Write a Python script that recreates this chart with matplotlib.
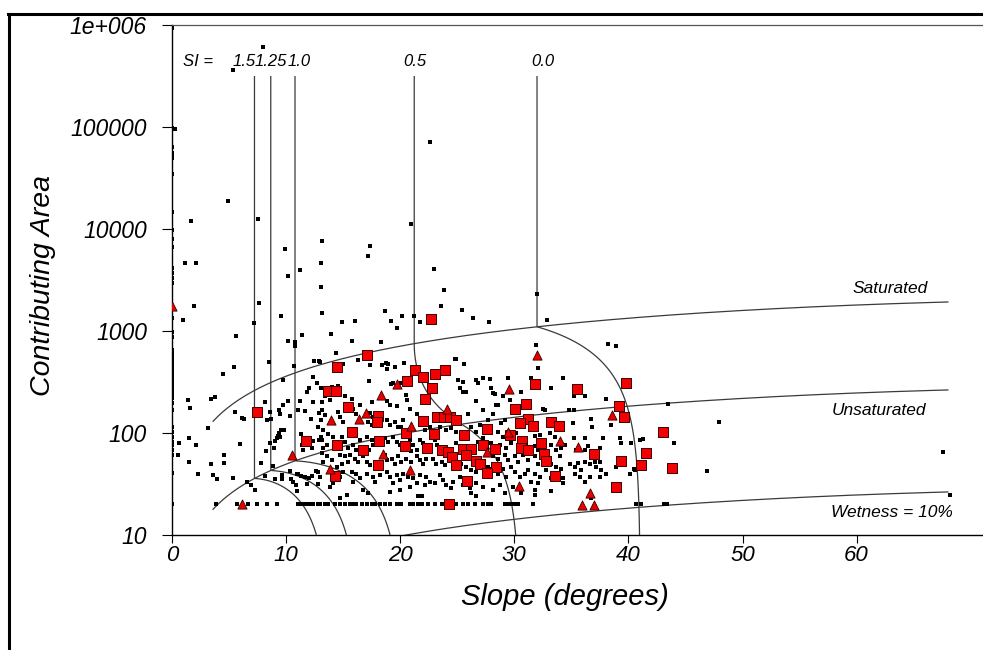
import numpy as np
import matplotlib
matplotlib.use("Agg")
import matplotlib.pyplot as plt
from matplotlib.lines import Line2D
from matplotlib.ticker import NullLocator
from matplotlib.transforms import offset_copy

# ---------------------------------------------------------------- data
# Grid cells with zero slope (flat cells): log10 of contributing area
flat_log_area = [5.97, 4.99, 4.80, 4.75, 4.73, 4.70, 4.54, 4.17, 3.99, 3.90, 3.82,
                 3.62, 3.57, 3.52, 3.47, 3.13, 2.99, 2.94, 2.81, 2.77, 2.74, 2.70,
                 2.66, 2.62, 2.58, 2.54, 2.50, 2.46, 2.42, 2.38, 2.34, 2.29, 2.23,
                 2.06, 2.01, 1.96, 1.91, 1.88, 1.83, 1.78, 1.61, 1.30]

# Sparse cells with large contributing area
upper_slope = [7.94, 5.37, 0.26, 22.59, 4.88, 1.64, 7.50, 20.99, 13.16, 17.34, 17.19,
               9.89, 1.14, 2.10, 13.05, 11.21, 10.13, 22.94, 13.02, 23.84, 23.56,
               25.42, 26.38, 1.93, 7.64, 9.54, 13.16, 18.63, 20.14, 21.19, 19.15,
               21.74, 14.86, 16.05, 0.99, 7.21, 19.73, 32.02, 27.78, 32.84, 5.60,
               10.18, 10.77, 10.77, 11.36, 13.90, 15.74, 18.30, 31.94, 38.20, 38.94]
upper_log_area = [5.78, 5.56, 4.98, 4.85, 4.27, 4.08, 4.10, 4.05, 3.88, 3.83, 3.74,
                  3.80, 3.67, 3.67, 3.67, 3.60, 3.54, 3.61, 3.43, 3.40, 3.25,
                  3.21, 3.13, 3.25, 3.27, 3.15, 3.18, 3.20, 3.15, 3.15, 3.10,
                  3.09, 3.09, 3.10, 3.11, 3.08, 3.03, 3.36, 3.09, 3.11, 2.95,
                  2.90, 2.89, 2.85, 2.96, 2.97, 2.90, 2.89, 2.86, 2.87, 2.85]

# Gentle slopes (west part of the cloud)
west_slope = [8.49, 5.43, 4.49, 10.71, 9.69, 12.46, 12.87, 12.32, 11.85, 12.02, 12.67,
              13.05, 1.37, 1.55, 3.42, 3.74, 5.49, 6.16, 6.30, 8.12, 8.29, 8.70, 8.56,
              9.37, 9.48, 9.75, 10.16, 10.36, 11.06, 11.62, 11.18, 12.15, 12.37, 12.90,
              13.11, 12.76, 13.05, 3.18, 1.51, 0.64, 2.08, 0.55, 1.46, 2.25, 3.42, 4.53,
              4.53, 3.56, 3.97, 5.37, 5.93, 8.99, 9.19, 9.34, 9.52, 9.78, 9.31, 9.46,
              8.61, 8.93, 8.20, 7.79, 8.82, 11.27, 12.32, 12.23, 12.87, 13.05, 11.36,
              11.44, 6.59, 6.92, 7.27, 8.14, 9.61, 9.02, 9.66, 10.42, 10.62, 10.86,
              10.95, 10.36, 10.92, 11.06, 11.27, 11.67, 12.02, 12.23, 12.58, 12.81,
              12.96, 11.82, 12.76]
west_log_area = [2.70, 2.65, 2.58, 2.66, 2.52, 2.71, 2.71, 2.55, 2.40, 2.44, 2.49,
                 2.44, 2.32, 2.25, 2.33, 2.35, 2.21, 2.15, 2.14, 2.30, 2.13, 2.14, 2.21,
                 2.23, 2.19, 2.27, 2.31, 2.17, 2.23, 2.22, 2.31, 2.14, 2.30, 2.20,
                 2.30, 2.06, 2.13, 2.05, 1.95, 1.90, 1.88, 1.78, 1.72, 1.60, 1.70, 1.78,
                 1.71, 1.59, 1.55, 1.56, 1.89, 1.92, 1.95, 2.00, 2.03, 2.03, 1.97, 1.96,
                 1.90, 1.85, 1.82, 1.71, 1.68, 1.99, 1.92, 1.85, 1.93, 1.96, 1.88,
                 1.83, 1.52, 1.49, 1.44, 1.58, 1.59, 1.55, 1.55, 1.55, 1.52, 1.49,
                 1.43, 1.63, 1.60, 1.60, 1.58, 1.57, 1.56, 1.58, 1.63, 1.62,
                 1.57, 1.50, 1.50]

# Middle part of the cloud
mid_slope = [14.33, 16.31, 17.34, 12.96, 18.39, 18.89, 19.53, 20.29, 24.87, 25.57, 17.28,
             19.15, 19.33, 20.11, 25.07, 25.28, 25.51, 25.74, 26.68, 26.86, 14.01, 14.51,
             13.40, 13.84, 15.15, 15.74, 17.49, 16.17, 15.88, 16.46, 18.80, 19.09, 19.68,
             20.55, 20.60, 21.43, 20.84, 26.62, 25.95, 27.26, 13.11, 13.40, 14.56, 14.71,
             15.00, 17.34, 17.63, 17.19, 17.49, 18.80, 19.09, 19.53, 19.82, 20.25, 20.11,
             21.72, 22.15, 22.59, 23.47, 24.05, 24.49, 24.93, 26.24, 26.68, 26.97, 13.25,
             13.69, 13.11, 13.55, 13.25, 14.12, 14.86, 15.15, 15.44, 15.88, 16.17, 16.46,
             17.05, 17.49, 17.63, 17.28, 18.65, 18.94, 19.33, 19.68, 19.96, 20.84, 21.13,
             21.43, 20.99, 21.72, 22.01, 23.03, 23.23, 24.93, 26.82, 27.26, 13.11, 13.55,
             13.98, 13.25, 14.71, 15.15, 15.59, 15.44, 14.86, 16.02, 16.31, 16.75, 17.05,
             17.34, 18.65, 18.80, 19.24, 19.53, 19.82, 20.11, 20.55, 20.99, 21.43, 21.72,
             22.01, 22.30, 22.88, 23.18, 23.62, 23.91, 25.37, 25.81, 26.24, 26.68, 27.26,
             27.70, 14.42, 15.00, 14.71, 14.12, 13.84, 15.74, 16.17, 16.46, 15.88, 17.05,
             17.63, 18.21, 17.78, 18.80, 19.09, 19.68, 19.96, 19.38, 20.25, 20.69, 21.13,
             21.43, 20.84, 21.72, 22.30, 22.59, 22.15, 23.03, 23.47, 23.76, 24.05, 24.63,
             24.49, 25.22, 25.51, 26.09, 26.68, 27.26, 21.57, 21.87, 19.09, 19.96, 16.75,
             17.19, 26.24, 26.68, 15.30, 14.71, 14.95, 18.74, 18.85, 29.45, 28.43, 27.26,
             28.13, 25.51, 24.78]
mid_log_area = [2.78, 2.72, 2.67, 2.70, 2.67, 2.68, 2.65, 2.69, 2.73, 2.68, 2.51,
                2.48, 2.49, 2.49, 2.52, 2.44, 2.40, 2.40, 2.52, 2.49, 2.45, 2.46,
                2.36, 2.32, 2.36, 2.33, 2.30, 2.19, 2.24, 2.27, 2.31, 2.27, 2.26,
                2.37, 2.32, 2.19, 2.24, 2.31, 2.19, 2.23, 2.23, 2.18, 2.21, 2.16,
                2.11, 2.20, 2.16, 2.11, 2.08, 2.13, 2.08, 2.11, 2.06, 2.13, 2.06,
                2.08, 2.03, 2.06, 2.06, 2.03, 2.05, 2.01, 2.06, 2.01, 2.08, 2.03,
                1.99, 1.93, 1.88, 1.85, 1.96, 1.96, 1.91, 1.85, 1.88, 1.83, 1.93,
                1.96, 1.93, 1.88, 1.83, 1.95, 1.91, 1.96, 1.91, 1.88, 1.93, 1.88,
                1.83, 1.82, 1.93, 1.90, 1.93, 1.88, 1.90, 1.91, 1.95, 1.80, 1.77,
                1.74, 1.72, 1.78, 1.77, 1.78, 1.72, 1.70, 1.75, 1.72, 1.77, 1.72,
                1.69, 1.78, 1.74, 1.75, 1.70, 1.77, 1.72, 1.75, 1.72, 1.77, 1.74,
                1.70, 1.75, 1.75, 1.70, 1.72, 1.69, 1.70, 1.67, 1.64, 1.62, 1.67,
                1.67, 1.67, 1.62, 1.57, 1.51, 1.47, 1.62, 1.60, 1.56, 1.52, 1.60,
                1.57, 1.59, 1.52, 1.62, 1.57, 1.59, 1.54, 1.51, 1.60, 1.57, 1.56,
                1.51, 1.47, 1.59, 1.57, 1.52, 1.49, 1.51, 1.59, 1.54, 1.49, 1.52,
                1.46, 1.57, 1.49, 1.46, 1.51, 1.47, 1.38, 1.38, 1.42, 1.44, 1.44,
                1.41, 1.41, 1.38, 1.39, 1.36, 2.68, 2.69, 2.63, 2.54, 2.27, 2.54,
                2.39, 2.50, 2.73]

# Steep slopes (east part of the cloud)
east_slope = [32.08, 27.85, 31.50, 34.26, 33.25, 30.62, 27.99, 28.28, 29.01, 29.60, 28.57,
              35.23, 36.23, 38.06, 32.51, 32.66, 34.79, 35.23, 36.69, 38.50, 28.13, 27.70,
              28.87, 29.16, 35.14, 36.80, 28.57, 29.01, 30.18, 31.79, 32.22, 33.10, 33.54,
              35.23, 36.16, 37.77, 39.23, 39.38, 40.98, 41.27, 40.25, 34.41, 27.99, 28.72,
              28.57, 29.31, 29.75, 31.79, 32.08, 33.25, 33.69, 34.12, 35.44, 36.16, 36.45,
              37.48, 28.13, 28.57, 29.16, 29.45, 30.04, 30.32, 30.76, 31.20, 31.79, 32.08,
              32.95, 33.25, 33.98, 33.69, 34.12, 34.85, 35.29, 35.58, 36.16, 35.87, 36.60,
              37.04, 37.48, 37.19, 37.63, 38.06, 37.48, 38.94, 40.11, 40.48, 27.99, 28.57,
              29.01, 29.31, 29.75, 30.04, 30.47, 30.91, 31.20, 31.79, 32.22, 32.08, 31.50,
              32.81, 33.25, 34.26, 34.26, 35.29, 35.73, 36.16, 36.60, 28.13, 28.72, 29.16,
              29.89, 30.62, 31.79, 31.79, 33.25, 36.75, 43.46, 47.92, 43.98, 46.91, 67.60,
              68.21, 40.54]
east_log_area = [2.64, 2.53, 2.54, 2.54, 2.44, 2.40, 2.44, 2.38, 2.36, 2.32, 2.27,
                 2.36, 2.36, 2.33, 2.24, 2.23, 2.23, 2.23, 2.14, 2.08, 2.19, 2.13,
                 2.10, 2.13, 2.10, 2.06, 2.01, 1.96, 2.00, 1.97, 1.98, 2.00, 1.96,
                 1.95, 1.95, 1.95, 1.95, 1.90, 1.93, 1.94, 1.90, 1.88, 1.90, 1.88,
                 1.83, 1.85, 1.90, 1.87, 1.83, 1.88, 1.83, 1.85, 1.83, 1.83, 1.87,
                 1.85, 1.77, 1.75, 1.78, 1.74, 1.77, 1.72, 1.78, 1.74, 1.77, 1.70,
                 1.75, 1.70, 1.77, 1.67, 1.65, 1.70, 1.67, 1.71, 1.72, 1.64, 1.70,
                 1.72, 1.72, 1.67, 1.64, 1.60, 1.57, 1.67, 1.60, 1.65, 1.65, 1.60,
                 1.65, 1.57, 1.67, 1.62, 1.57, 1.60, 1.64, 1.60, 1.57, 1.51, 1.52,
                 1.64, 1.56, 1.56, 1.51, 1.60, 1.57, 1.52, 1.57, 1.44, 1.49, 1.41,
                 1.47, 1.41, 1.44, 1.39, 1.43, 1.36, 2.28, 2.11, 1.90, 1.63, 1.81,
                 1.39, 1.64]

# Cells whose contributing area is exactly the minimum of 20
row_area = 20.0
row_slope = [3.83, 5.67, 6.68, 7.42, 8.29, 9.17, 11.06, 11.36, 11.65, 11.88, 12.11,
             12.32, 12.81, 12.96, 13.40, 13.69, 14.27, 14.71, 15.15, 15.59, 15.88,
             16.17, 16.61, 17.05, 17.49, 17.78, 18.21, 18.65, 19.09, 19.68, 20.11,
             20.84, 21.13, 21.57, 21.87, 22.44, 23.03, 23.62, 24.93, 25.51, 25.95,
             26.53, 27.26, 27.70, 27.99, 29.22, 29.42, 29.68, 29.89, 30.18, 30.32,
             31.64, 40.69, 41.13, 43.14, 43.37]

# Landslide initiation points (squares)
slide_slope = [22.74, 17.05, 14.42, 21.28, 22.02, 23.07, 23.95, 20.56, 22.77, 31.79,
               13.69, 14.36, 22.16, 15.46, 7.43, 31.02, 30.05, 18.07, 17.95, 22.01,
               23.23, 23.80, 24.34, 24.93, 31.16, 30.50, 31.66, 33.25, 33.89, 15.79,
               20.55, 22.94, 25.63, 27.58, 29.62, 11.71, 14.48, 18.15, 20.39, 30.68,
               32.37, 22.36, 27.26, 16.75, 23.62, 24.20, 24.52, 25.54, 26.20, 25.75,
               28.35, 30.63, 31.18, 32.58, 32.75, 18.08, 24.93, 26.62, 27.03, 28.42,
               27.61, 14.29, 25.82, 24.26, 35.47, 39.80, 39.19, 39.61, 43.06, 36.98,
               41.55, 39.39, 41.13, 43.81, 33.54, 38.91]
slide_log_area = [3.115, 2.765, 2.644, 2.618, 2.546, 2.583, 2.618, 2.513, 2.443, 2.476,
                  2.412, 2.407, 2.330, 2.253, 2.206, 2.289, 2.238, 2.165, 2.106, 2.121,
                  2.159, 2.154, 2.157, 2.123, 2.142, 2.101, 2.066, 2.105, 2.072, 2.007,
                  2.000, 1.993, 1.980, 2.036, 1.985, 1.924, 1.887, 1.922, 1.875, 1.922,
                  1.905, 1.853, 1.887, 1.830, 1.838, 1.811, 1.768, 1.845, 1.845, 1.781,
                  1.845, 1.855, 1.830, 1.799, 1.725, 1.689, 1.683, 1.728, 1.699, 1.670,
                  1.608, 1.575, 1.531, 1.304, 2.429, 2.492, 2.262, 2.152, 2.005, 1.791,
                  1.806, 1.728, 1.683, 1.652, 1.581, 1.468]

# Second landslide class (triangles)
scar_slope = [0.00, 31.96, 19.73, 18.33, 29.54, 16.96, 16.40, 13.90, 24.14, 20.99,
              29.42, 10.53, 18.50, 27.63, 13.85, 20.89, 30.39, 6.16, 38.56, 34.00,
              35.58, 36.62, 35.93, 36.98]
scar_log_area = [3.245, 2.765, 2.480, 2.373, 2.431, 2.199, 2.142, 2.123, 2.235, 2.072,
                 2.010, 1.781, 1.796, 1.814, 1.645, 1.635, 1.478, 1.302, 2.174, 1.917,
                 1.858, 1.412, 1.299, 1.299]

# Stability index classes drawn as contours
si_levels = [1.5, 1.25, 1.0, 0.5, 0.0]
si_labels = ["1.5", "1.25", "1.0", "0.5", "0.0"]

y_ticks = [10, 100, 1000, 10000, 100000, 1000000]
y_tick_labels = ["10", "100", "1000", "10000", "100000", "1e+006"]
x_ticks = [0, 10, 20, 30, 40, 50, 60]

# ---------------------------------------------------------------- model
# SINMAP calibration bounds
tr_lower, tr_upper = 285.0, 2076.0        # T/R (m)
c_lower, c_upper = 0.016, 0.367           # dimensionless cohesion
phi_lower, phi_upper = 19.2, 21.0         # friction angle (degrees)
density_ratio = 0.5                       # water / soil density
tan_lower, tan_upper = np.tan(np.radians(phi_lower)), np.tan(np.radians(phi_upper))


def ramp(u):
    return np.where(u < 0, 0.0, np.where(u > 1, u - 0.5, 0.5 * u * u))


def stability_fields():
    theta = np.radians(np.linspace(0.2, 75.0, 1100))
    log_a = np.linspace(1.0, 5.5, 380)
    th, la = np.meshgrid(theta, log_a)
    area = 10.0 ** la
    s, c = np.sin(th), np.cos(th)

    def fs(coh, tanphi, tr):
        w = np.minimum(area / (tr * s), 1.0)
        return (coh + c * (1.0 - density_ratio * w) * tanphi) / s

    fs_min = fs(c_lower, tan_lower, tr_lower)
    fs_max = fs(c_upper, tan_upper, tr_upper)

    # probability of FS > 1 with C, tan(phi), R/T uniform over their ranges
    n = 120
    rt = 1 / tr_upper + (np.arange(n) + 0.5) / n * (1 / tr_lower - 1 / tr_upper)
    dc = c_upper - c_lower
    prob = np.zeros_like(area)
    for x in rt:
        w = np.minimum(area * x / s, 1.0)
        k = c * (1.0 - density_ratio * w)
        u1 = (c_upper - s + k * tan_lower) / dc
        u2 = (c_upper - s + k * tan_upper) / dc
        prob += (ramp(u2) - ramp(u1)) / (u2 - u1)
    prob /= n
    return np.degrees(th), area, fs_min, fs_max, prob


def saturated_threshold(si):
    """Slope at which a saturated cell reaches the given stability index."""
    th = np.radians(np.linspace(0.5, 80, 4000))
    if si >= 1.0:
        coh, tphi, target = c_lower, tan_lower, si
    elif si > 0.0:
        coh, tphi, target = 0.5 * (c_lower + c_upper), 0.5 * (tan_lower + tan_upper), 1.0
    else:
        coh, tphi, target = c_upper, tan_upper, 1.0
    fs = (coh + np.cos(th) * (1 - density_ratio) * tphi) / np.sin(th)
    return np.degrees(np.interp(target, fs[::-1], th[::-1]))


# ---------------------------------------------------------------- figure
plt.rcParams["font.family"] = ["Liberation Sans", "DejaVu Sans"]
plt.rcParams["font.style"] = "italic"

W, H = 983, 650
fig = plt.figure(figsize=(W / 100, H / 100), dpi=100)
px_per_deg = 11.41
x_max = 80
ax = fig.add_axes([172 / W, 115 / H, x_max * px_per_deg / W, 510 / H])

line_col = "#3a3a3a"
th_deg, area_grid, fs_min, fs_max, prob = stability_fields()
ax.contour(th_deg, area_grid, fs_min, levels=[1.0, 1.25, 1.5], colors=line_col, linewidths=0.9)
ax.contour(th_deg, area_grid, fs_max, levels=[1.0], colors=line_col, linewidths=0.9)
ax.contour(th_deg, area_grid, prob, levels=[0.5], colors=line_col, linewidths=0.9)

# wetness lines
line_theta = np.linspace(3.6, 68.0, 300)
sin_l = np.sin(np.radians(line_theta))
ax.plot(line_theta, tr_upper * sin_l, color=line_col, lw=0.9)
ax.plot(line_theta, tr_lower * sin_l, color=line_col, lw=0.9)
ax.plot(line_theta, 0.1 * tr_lower * sin_l, color=line_col, lw=0.9)

# cells
dot_kw = dict(s=5.0, marker="s", color="black", linewidths=0, zorder=3)
ax.scatter(np.zeros(len(flat_log_area)), 10.0 ** np.array(flat_log_area), **dot_kw)
ax.scatter(upper_slope, 10.0 ** np.array(upper_log_area), **dot_kw)
ax.scatter(west_slope, 10.0 ** np.array(west_log_area), **dot_kw)
ax.scatter(mid_slope, 10.0 ** np.array(mid_log_area), **dot_kw)
ax.scatter(east_slope, 10.0 ** np.array(east_log_area), **dot_kw)
ax.scatter(row_slope, np.full(len(row_slope), row_area), **dot_kw)

ax.scatter(slide_slope, 10.0 ** np.array(slide_log_area), s=50, marker="s",
           facecolor="#f40000", edgecolor="#3a0000", linewidths=0.7, zorder=4)
ax.scatter(scar_slope, 10.0 ** np.array(scar_log_area), s=44, marker="^",
           facecolor="#e80000", edgecolor="#3a0000", linewidths=0.6, zorder=4)

# axes
ax.set_yscale("log")
ax.set_xlim(0, x_max)
ax.set_ylim(10, 1e6)
ax.set_yticks(y_ticks)
ax.set_yticklabels(y_tick_labels)
ax.yaxis.set_minor_locator(NullLocator())
ax.set_xticks(x_ticks)
ax.set_xticklabels([str(t) for t in x_ticks])
ax.tick_params(axis="y", direction="out", length=7.5, width=0.8, pad=10.5,
               labelsize=16.5, colors="black")
ax.tick_params(axis="x", direction="out", length=6.0, width=0.8, pad=1.5,
               labelsize=16, colors="black")
ax.spines["right"].set_visible(False)
ax.spines["top"].set_color("#555555")
ax.spines["top"].set_linewidth(0.9)
for side in ("left", "bottom"):
    ax.spines[side].set_linewidth(1.0)
    ax.spines[side].set_color("black")

# SI labels above vertical lines
label_y = 10 ** 5.60
ax.text(1.0, label_y, "SI =", fontsize=12, ha="left", va="baseline")
label_style = {1.5: ("right", 1), 1.25: ("center", 0), 1.0: ("center", 4),
               0.5: ("center", 1), 0.0: ("center", 6)}
for si, txt in zip(si_levels, si_labels):
    ha, dx = label_style[si]
    tr = offset_copy(ax.transData, fig=fig, x=dx, y=0, units="dots")
    ax.text(saturated_threshold(si), label_y, txt, fontsize=12, ha=ha,
            va="baseline", transform=tr)

ax.text(66.2, 10 ** 3.37, "Saturated", fontsize=12.5, ha="right", va="baseline")
ax.text(66.1, 10 ** 2.176, "Unsaturated", fontsize=12.5, ha="right", va="baseline")
ax.text(68.4, 10 ** 1.18, "Wetness = 10%", fontsize=12.5, ha="right", va="baseline")

fig.text(43 / W, 1 - 285 / H, "Contributing Area", fontsize=20.5, rotation=90,
         ha="center", va="center")
fig.text(565 / W, 1 - 597 / H, "Slope (degrees)", fontsize=21, ha="center", va="center")

# outer frame
fig.add_artist(Line2D([8.7 / W, 8.7 / W], [0, 1 - 13.5 / H], color="black", lw=2.2))
fig.add_artist(Line2D([7.6 / W, 1], [1 - 13.5 / H, 1 - 13.5 / H], color="black", lw=2.2))

fig.savefig("out.png", dpi=100)
